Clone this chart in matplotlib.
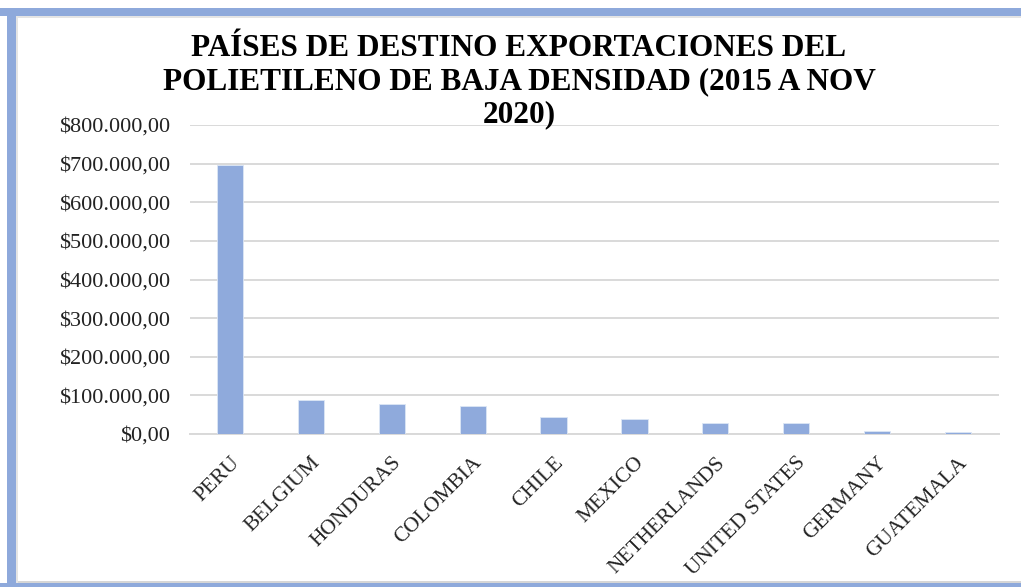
import matplotlib
matplotlib.use("Agg")
import matplotlib.pyplot as plt
from matplotlib.patches import Rectangle
from matplotlib.ticker import FuncFormatter

categories = ["PERU", "BELGIUM", "HONDURAS", "COLOMBIA", "CHILE", "MEXICO",
              "NETHERLANDS", "UNITED STATES", "GERMANY", "GUATEMALA"]
values = [696000, 89000, 78000, 72500, 43000, 38000, 29500, 29000, 7500, 4500]
yticks = [0, 100000, 200000, 300000, 400000, 500000, 600000, 700000, 800000]
title = "PAÍSES DE DESTINO EXPORTACIONES DEL\nPOLIETILENO DE BAJA DENSIDAD (2015 A NOV\n2020)"

W, H = 1021, 587
fig = plt.figure(figsize=(W / 100, H / 100), dpi=100)
fig.patch.set_facecolor("white")

serif = ["Liberation Serif", "DejaVu Serif"]

# axes placement in pixels
x0, x1 = 189.5, 998.5
y_top, y_bot = 125, 434
ax = fig.add_axes([x0 / W, 1 - y_bot / H, (x1 - x0) / W, (y_bot - y_top) / H])

ax.bar(range(len(categories)), values, width=0.325, color="#8FAADC",
       edgecolor="#DCE6F5", linewidth=0.6, zorder=3)
ax.set_xlim(-0.5, len(categories) - 0.5)
ax.set_ylim(0, 800000)
ax.set_yticks(yticks)
ax.yaxis.set_major_formatter(FuncFormatter(
    lambda v, p: "$" + f"{v:,.2f}".replace(",", "X").replace(".", ",").replace("X", ".")))
ax.grid(axis="y", color="#D9D9D9", linewidth=1.4, zorder=0)
ax.set_axisbelow(True)
for s in ["top", "right", "left"]:
    ax.spines[s].set_visible(False)
ax.spines["bottom"].set_color("#D9D9D9")
ax.spines["bottom"].set_linewidth(1.4)
ax.spines["bottom"].set_zorder(1)
ax.tick_params(axis="both", length=0)
ax.tick_params(axis="y", pad=14, labelsize=16, labelcolor="#222222")
ax.set_xticks(range(len(categories)))
ax.set_xticklabels(categories, rotation=45, ha="right", va="top",
                   rotation_mode="anchor", fontsize=15.5, color="#222222")
ax.tick_params(axis="x", pad=14)
for lab in ax.get_xticklabels() + ax.get_yticklabels():
    lab.set_family(serif)

fig.text(519 / W, 1 - 34 / H, title, ha="center", va="top", fontsize=22.5,
         fontweight="bold", family=serif, linespacing=1.18, color="black")

# border
bc = "#8EA9DB"
fig.patches.append(Rectangle((0, 1 - 16 / H), 1, 8 / H, transform=fig.transFigure,
                             facecolor=bc, edgecolor="none"))
fig.patches.append(Rectangle((7 / W, 0), 9 / W, 1 - 8 / H, transform=fig.transFigure,
                             facecolor=bc, edgecolor="none"))
fig.patches.append(Rectangle((0, 0), 1, 4 / H, transform=fig.transFigure,
                             facecolor=bc, edgecolor="none"))
# light shadow lines
fig.patches.append(Rectangle((16 / W, 1 - 18 / H), 1, 2 / H, transform=fig.transFigure,
                             facecolor="#E4E4E4", edgecolor="none"))
fig.patches.append(Rectangle((16 / W, 4 / H), 1, 2 / H, transform=fig.transFigure,
                             facecolor="#D6D6D6", edgecolor="none"))
fig.patches.append(Rectangle((16 / W, 4 / H), 2 / W, 1 - 22 / H, transform=fig.transFigure,
                             facecolor="#E4E4E4", edgecolor="none"))

fig.savefig("out.png", dpi=100, facecolor="white")
